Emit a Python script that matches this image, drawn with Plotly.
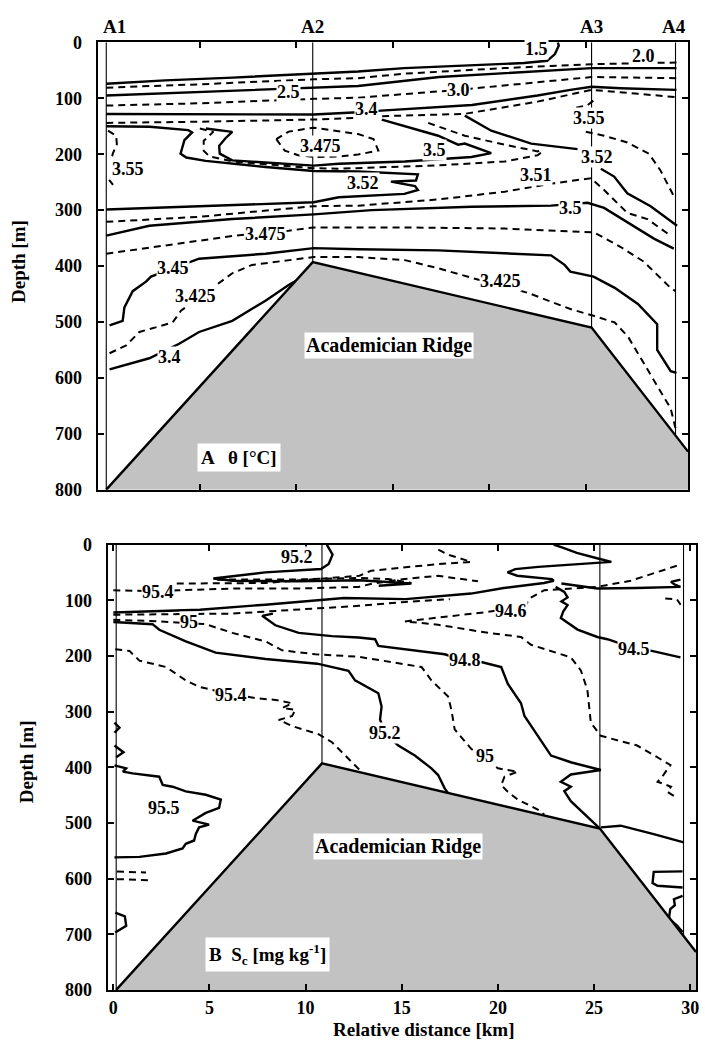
import numpy as np
import plotly.graph_objects as go

# ---------------- data ----------------
depth_ticks = [0, 100, 200, 300, 400, 500, 600, 700, 800]
km_ticks = [0, 5, 10, 15, 20, 25, 30]
station_names = ["A1", "A2", "A3", "A4"]
station_km = [0.15, 10.85, 25.3, 29.65]
ridge_km = [0.15, 10.85, 25.3, 30.3]
ridge_depth = [800, 393, 510, 732]

# Panel A: potential temperature isolines, (distance km, depth m)
a_15 = [(0.15, 74), (3.2, 68), (6.7, 63), (10.9, 56), (13.2, 52), (15.6, 46), (19.1, 41),
        (21.8, 37), (23.0, 33), (23.4, 21), (23.6, 6), (23.55, 0)]
a_20 = [(0.15, 81), (5.0, 75), (10.9, 66), (13.2, 64), (15.6, 56), (20.8, 46), (25.3, 39), (29.7, 36)]
a_25 = [(0.15, 95), (5.0, 89), (10.9, 81), (13.2, 78), (17.4, 62), (25.3, 46), (29.7, 46)]
a_30 = [(0.15, 113), (5, 109), (10.9, 101), (13.2, 99), (18.4, 85), (22.5, 72), (25.3, 62), (29.7, 64)]
a_34 = [(0.15, 128), (5, 128), (10.9, 129), (13.2, 125), (14.4, 122), (19.1, 112), (22.5, 95),
        (24.2, 85), (25.3, 79.5), (26.8, 82), (29.7, 85)]
a_345u = [(0.15, 144), (5, 142), (10.9, 138), (13.2, 135), (14.4, 132), (18.7, 128), (22.5, 106),
          (25.3, 85), (27.7, 92), (29.7, 98)]
a_352 = [(0.15, 150), (2.4, 151), (4.4, 157), (4.6, 161), (4.2, 175), (4.0, 199), (4.3, 206),
         (5.3, 212), (8.4, 223), (10.9, 230), (13.2, 231), (14.8, 233), (16.3, 236), (16.2, 247),
         (14.9, 249), (16.15, 257), (16.3, 264), (15.6, 271), (13.9, 274), (12.2, 277), (10.9, 286),
         (5.0, 293), (0.15, 299)]
a_35u = [(5.31, 154), (6.68, 160), (6.34, 171), (6.0, 185), (6.03, 199), (6.68, 211), (10.9, 220.5),
         (12.19, 217), (15.63, 213), (19.07, 205), (20.1, 198), (19.76, 193.6), (18.73, 181),
         (18.38, 183), (17.35, 167), (16.49, 158.5), (14.43, 138)]
a_352u = [(5.0, 154), (5.7, 160), (5.2, 176), (5.2, 194), (5.5, 204), (6.7, 213), (10.9, 225),
          (12.2, 226), (17.35, 220), (20.8, 213), (22.5, 202), (22.8, 194)]
a_sol_b = [(18.73, 131), (20.1, 158), (22.17, 181), (24.57, 191)]
a_dash_b = [(16.83, 144), (18.73, 167), (20.8, 183), (22.5, 195), (22.77, 191)]
a_351 = [(0.15, 321), (4.96, 312), (10.9, 293), (13.22, 292), (17.35, 281), (20.8, 267),
         (23.37, 252), (25.26, 243), (25.95, 264), (27.15, 305), (28.19, 316), (29.39, 345.6)]
a_35 = [(0.15, 345.6), (2.38, 328), (6.68, 316), (10.9, 307.6), (13.91, 300), (19.07, 294),
        (23.2, 292), (25.09, 287), (25.95, 296), (27.15, 322), (28.53, 351), (29.56, 369)]
a_3475 = [(0.15, 378), (3.24, 363), (6.85, 345.6), (9.6, 336.8), (10.9, 331), (13.22, 331),
          (15.63, 331), (20.8, 333), (25.43, 340), (26.81, 366), (28.0, 392), (29.39, 439), (29.65, 445)]
a_345 = [(0.32, 506), (1.0, 498), (1.09, 474), (1.52, 445), (2.21, 428), (2.47, 419), (4.96, 387),
         (8.4, 378), (10.9, 368), (13.22, 370), (17.35, 372), (23.2, 381), (23.9, 398), (24.2, 410),
         (25.4, 419), (26.5, 439), (27.7, 468), (28.7, 504), (28.7, 550), (29.4, 588), (29.7, 591)]
a_3425 = [(0.32, 556), (1.18, 542), (1.87, 518), (2.73, 509), (3.59, 501), (4.02, 480), (5.6, 440),
          (6.68, 413), (7.7, 398), (10.9, 384), (13.22, 384), (15.63, 389.5), (17.35, 404),
          (19.07, 421), (22.0, 448), (24.2, 477), (25.4, 489), (26.5, 501), (27.2, 527),
          (28.0, 574), (28.7, 615), (29.4, 655), (29.65, 690)]
a_340 = [(0.32, 585), (1.52, 574), (2.38, 565), (3.93, 539), (4.96, 518), (6.68, 498), (8.4, 462),
         (9.6, 434), (10.1, 424)]
a_355a = [(0.24, 158), (0.66, 167), (0.7, 182), (0.49, 199), (0.41, 211)]
a_355b = [(0.3, 246), (0.5, 255)]
a_3475c = [(8.96, 173), (9.4, 193.6), (10.1, 202), (10.9, 205), (12.2, 204), (13.2, 200.6),
           (14.25, 193.6), (14.0, 173), (13.2, 164), (12.2, 158.5), (10.9, 152.6), (9.6, 159.6), (8.96, 173)]
a_355r = [(25.0, 160), (25.95, 167), (27.15, 179), (28.27, 199), (28.87, 229), (29.39, 264), (29.56, 275)]
a_352r = [(25.78, 226), (26.47, 240), (27.15, 270), (28.36, 293), (29.73, 328)]
a_355s = [(24.5, 117), (25.1, 112), (25.4, 104)]

# Panel B: Sc isolines, (distance km, depth m)
b_952t = [(11.1, 0), (11.4, 18), (11.2, 35), (10.8, 44), (7.9, 50), (5.2, 61), (6.2, 65), (9.6, 66),
          (12.8, 64), (15.5, 70), (13.8, 74)]
b_954u = [(0.0, 82), (2.3, 84), (3.4, 82), (6.2, 79), (9.6, 79), (12.75, 76), (13.44, 70.5),
          (15.16, 61.7), (16.89, 56), (18.96, 66)]
b_dup = [(3.3, 70), (7.9, 69), (12.8, 56), (13.4, 47), (16.9, 35), (18.6, 31), (17.4, 18), (16.9, 9)]
b_dband = [(5.4, 63), (9.6, 62.5), (12.75, 60), (14.3, 62), (15.5, 69)]
b_sol1 = [(0.0, 122), (4.5, 117), (7.9, 108), (12.0, 96), (15.2, 98), (18.6, 88), (20.3, 78),
          (22.4, 69), (22.9, 65), (22.8, 62), (21.0, 56), (20.5, 50), (20.9, 44), (22.1, 40),
          (23.8, 36), (25.2, 33.5), (25.9, 31), (25.2, 25), (24.1, 15), (23.4, 6), (22.9, 0)]
b_dash1 = [(0.0, 126), (6.2, 124), (12.75, 110), (15.2, 103), (17.5, 98)]
b_950 = [(0.0, 135), (2.39, 138), (4.8, 143), (6.19, 158.6), (7.92, 174), (8.78, 190), (10.5, 197),
         (12.75, 201.5), (16.03, 220), (16.54, 244), (17.41, 273), (17.58, 297), (17.75, 332),
         (18.61, 367), (20.0, 402), (21.03, 408), (20.34, 417), (20.17, 432), (20.51, 444),
         (21.03, 458), (22.07, 476), (22.41, 485)]
b_952 = [(0.0, 139), (2.04, 143), (2.39, 153), (3.77, 174), (5.32, 194), (7.92, 205.6), (10.6, 214),
         (12.23, 227), (12.57, 244), (13.78, 267), (13.95, 291), (13.87, 314), (14.1, 338),
         (14.82, 361), (15.68, 379), (16.54, 402), (16.89, 414), (17.23, 438), (17.4, 446)]
b_948 = [(8.3, 124), (7.74, 128), (8.43, 145), (9.64, 158.6), (11.37, 164.5), (12.75, 167),
         (13.61, 170), (13.78, 182), (17.23, 197), (18.27, 208.5), (19.13, 211), (20.17, 220),
         (20.51, 250), (21.2, 285), (21.38, 308), (22.07, 343.6), (22.76, 379), (23.79, 391),
         (25.35, 405), (23.79, 413), (23.27, 426), (23.79, 435), (23.45, 443), (23.79, 461),
         (24.83, 496), (25.26, 509)]
b_946 = [(29.3, 38), (28.28, 50), (26.9, 65), (25.17, 76), (23.79, 79), (22.41, 82), (21.63, 97),
         (21.4, 112), (19.3, 121.6), (17.75, 127.5), (15.16, 138), (16.89, 144), (19.48, 158.6),
         (21.2, 166), (21.72, 180), (23.79, 202.6), (24.31, 226), (24.65, 261), (24.83, 320),
         (25.35, 343.6), (27.24, 361), (28.97, 396), (28.6, 414), (28.3, 426), (29.0, 435),
         (28.8, 444), (29.3, 455)]
b_945 = [(23.0, 76), (23.45, 85), (23.62, 95), (23.3, 102), (23.62, 108.7), (23.4, 120),
         (23.27, 132), (24.14, 152.7), (25.17, 166), (25.69, 170), (27.07, 186), (28.0, 191), (29.49, 202.6)]
b_solr = [(23.3, 70), (25.17, 79), (27.2, 78), (29.49, 76), (29.2, 72), (29.0, 67), (29.49, 63)]
b_dashr = [(28.7, 97), (29.3, 98), (29.5, 108)]
b_954l = [(0.1, 188), (0.84, 191), (1.36, 208.5), (2.74, 220), (3.77, 244), (4.46, 255.5),
          (5.15, 261), (7.4, 276), (8.43, 279), (9.3, 285), (8.78, 293.7), (9.47, 296.6), (9.3, 308),
          (8.6, 315), (9.3, 326), (10.67, 340.7), (11.37, 355), (11.71, 367), (12.23, 385),
          (12.75, 402), (12.9, 408)]
b_955 = [(0.06, 396.5), (0.67, 402), (0.5, 408), (1.01, 411), (2.39, 417), (2.57, 432), (3.08, 435),
         (3.77, 443.5), (4.81, 449.5), (5.59, 458), (5.5, 473), (4.81, 482), (4.12, 496), (4.98, 503),
         (4.46, 508), (4.29, 520), (4.2, 531.6), (3.77, 537.5), (3.6, 546), (2.74, 555), (1.36, 561), (0.06, 562)]
b_bump1 = [(0.06, 320), (0.32, 329), (0.06, 338)]
b_bump2 = [(0.06, 361), (0.53, 373), (0.15, 382)]
b_bump3 = [(0.1, 661), (0.6, 668), (0.67, 685), (0.1, 697)]
b_d600a = [(0.19, 587.5), (1.7, 589)]
b_d600b = [(0.19, 601), (1.96, 603)]
b_r1 = [(25.35, 508), (26.38, 505), (28.1, 520), (29.66, 535)]
b_r2 = [(29.6, 587), (28.1, 588), (28.04, 608), (28.3, 613), (29.6, 616)]
b_r3 = [(29.6, 631), (29.15, 637), (29.2, 648), (28.96, 655), (28.89, 672), (29.3, 684), (29.6, 696)]

lines_a = [(a_15, 0), (a_20, 1), (a_25, 0), (a_30, 1), (a_34, 0), (a_345u, 1), (a_352, 0),
           (a_35u, 0), (a_352u, 1), (a_sol_b, 0), (a_dash_b, 1), (a_351, 1), (a_35, 0),
           (a_3475, 1), (a_345, 0), (a_3425, 1), (a_340, 0), (a_355a, 1), (a_355b, 1),
           (a_3475c, 1), (a_355r, 1), (a_352r, 0), (a_355s, 1)]
lines_b = [(b_952t, 0), (b_954u, 1), (b_dup, 1), (b_dband, 1), (b_sol1, 0), (b_dash1, 1),
           (b_950, 1), (b_952, 0), (b_948, 0), (b_946, 1), (b_945, 0), (b_solr, 0), (b_dashr, 1),
           (b_954l, 1), (b_955, 0), (b_bump1, 0), (b_bump2, 0), (b_bump3, 0), (b_d600a, 1),
           (b_d600b, 1), (b_r1, 0), (b_r2, 0), (b_r3, 0)]

labels_a = [("1.5", 22.42, 12), ("2.0", 28.0, 24), ("2.5", 9.61, 88), ("3.0", 18.38, 85),
            ("3.4", 13.65, 120), ("3.475", 11.24, 185), ("3.5", 17.18, 193), ("3.55", 1.27, 226),
            ("3.55", 25.17, 135), ("3.52", 25.6, 205), ("3.52", 13.48, 252), ("3.51", 22.42, 237),
            ("3.5", 24.23, 296), ("3.475", 8.4, 343), ("3.45", 3.59, 404), ("3.425", 4.79, 454),
            ("3.425", 20.6, 427), ("3.4", 3.42, 562)]
labels_b = [("95.2", 9.56, 23), ("95.4", 2.3, 85), ("95", 3.95, 139), ("95.4", 6.1, 270),
            ("94.6", 20.69, 120), ("94.8", 18.27, 208), ("94.5", 27.08, 188), ("95.2", 14.13, 338),
            ("95", 19.31, 379), ("95.5", 2.65, 473)]

# ---------------- figure ----------------
FONT = "Liberation Serif"
W, H = 705, 1046
SOLID = dict(color="black", width=2.4)
DASH = dict(color="black", width=2.0, dash="7px,5px")

fig = go.Figure()


def add_panel(lines, xa, ya):
    for pts, dashed in lines:
        k, d = zip(*pts)
        fig.add_trace(go.Scatter(x=k, y=d, mode="lines", line=DASH if dashed else SOLID,
                                 xaxis=xa, yaxis=ya, hoverinfo="skip", showlegend=False))
    # ridge
    fig.add_trace(go.Scatter(x=ridge_km + [ridge_km[-1], ridge_km[0]],
                             y=ridge_depth + [800, 800], mode="lines", fill="toself",
                             fillcolor="#c2c2c2", line=dict(width=0), xaxis=xa, yaxis=ya,
                             hoverinfo="skip", showlegend=False))
    fig.add_trace(go.Scatter(x=ridge_km, y=ridge_depth, mode="lines",
                             line=dict(color="black", width=2.4), xaxis=xa, yaxis=ya,
                             hoverinfo="skip", showlegend=False))
    # station lines
    for k in station_km:
        bottom = float(np.interp(k, ridge_km, ridge_depth))
        fig.add_trace(go.Scatter(x=[k, k], y=[0, bottom], mode="lines",
                                 line=dict(color="black", width=1.1), xaxis=xa, yaxis=ya,
                                 hoverinfo="skip", showlegend=False))


add_panel(lines_a, "x", "y")
add_panel(lines_b, "x2", "y2")

BOLD = dict(family=FONT, color="black", weight="bold")
ann = []
for txt, k, d in labels_a:
    ann.append(dict(text=txt, x=k, y=d, xref="x", yref="y", showarrow=False, bgcolor="white",
                    borderpad=0, font=dict(size=18, **BOLD)))
for txt, k, d in labels_b:
    ann.append(dict(text=txt, x=k, y=d, xref="x2", yref="y2", showarrow=False, bgcolor="white",
                    borderpad=0, font=dict(size=18, **BOLD)))

for name, k, xs in zip(station_names, station_km, [8, 0, 0, -2]):
    ann.append(dict(text=name, x=k, y=1 - 17 / H, xref="x", yref="paper", xshift=xs,
                    xanchor="center", yanchor="middle",
                    showarrow=False, font=dict(size=19, **BOLD)))

for xref, yref in [("x", "y"), ("x2", "y2")]:
    ann.append(dict(text="Academician Ridge", x=14.8, y=543, xref=xref, yref=yref, showarrow=False,
                    bgcolor="white", borderpad=1, font=dict(size=20, **BOLD)))

ann.append(dict(text="A   θ [°C]", x=7.03, y=743, xref="x", yref="y", showarrow=False,
                bgcolor="white", borderpad=3, font=dict(size=19, **BOLD)))
ann.append(dict(text="B  S<sub>c</sub> [mg kg<sup>-1</sup>]", x=8.04, y=737, xref="x2", yref="y2",
                showarrow=False, bgcolor="white", borderpad=3, font=dict(size=19, **BOLD)))

for xp, yp in [(18, 256), (26, 766)]:
    ann.append(dict(text="Depth [m]", x=xp / W, y=1 - yp / H, xref="paper", yref="paper",
                    textangle=-90, xanchor="center", yanchor="middle",
                    showarrow=False, font=dict(size=19, **BOLD)))
ann.append(dict(text="Relative distance [km]", x=426 / W, y=1 - 1039 / H, xref="paper",
                yref="paper", xanchor="center", yanchor="middle",
                showarrow=False, font=dict(size=19, **BOLD)))

tickfont = dict(size=18, **BOLD)
common = dict(showgrid=False, zeroline=False, showline=True, linecolor="black", linewidth=2,
              mirror="ticks", ticks="inside", ticklen=6, tickwidth=1.5, tickcolor="black",
              tickfont=tickfont)

fig.update_layout(
    width=W, height=H, autosize=False, margin=dict(l=0, r=0, t=0, b=0),
    paper_bgcolor="white", plot_bgcolor="white", showlegend=False,
    xaxis=dict(domain=[98 / W, 691 / W], anchor="y", range=[-0.3, 30.3], tickvals=km_ticks[1:-1],
               showticklabels=False, **common),
    yaxis=dict(domain=[1 - 489 / H, 1 - 33 / H], anchor="x", range=[800, 0], tickvals=depth_ticks,
               ticklabelstandoff=10, **common),
    xaxis2=dict(domain=[108 / W, 699 / W], anchor="y2", range=[-0.3, 30.3], tickvals=km_ticks,
                ticklabelstandoff=1, **common),
    yaxis2=dict(domain=[1 - 999 / H, 1 - 545 / H], anchor="x2", range=[800, 0], tickvals=depth_ticks,
                ticklabelstandoff=10, **common),
    annotations=ann,
)

fig.write_html("out.html", config={"displayModeBar": False},
               post_script="document.body.style.margin='0';document.body.style.overflow='hidden';")
